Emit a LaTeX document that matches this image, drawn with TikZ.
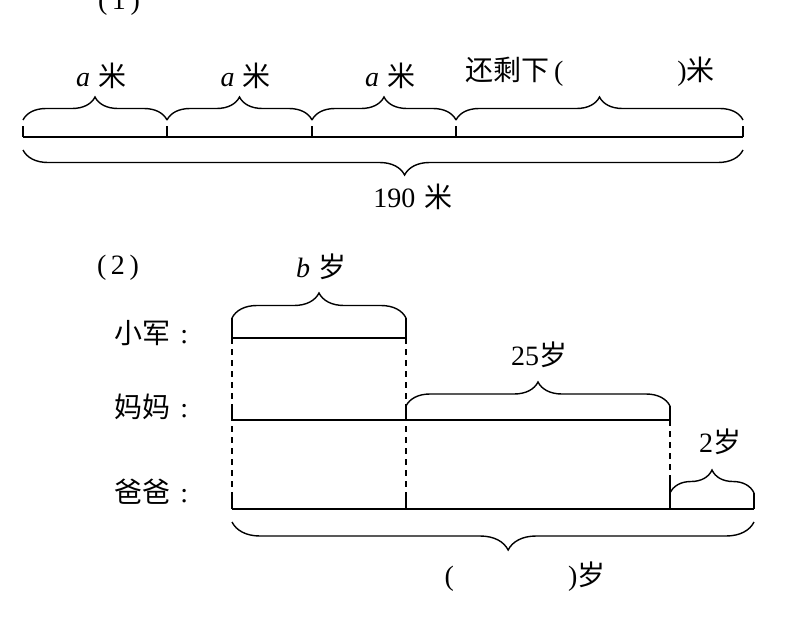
\documentclass[tikz,border=0pt]{standalone}
\usepackage{fontspec}
\setmainfont{Liberation Serif}
\newfontfamily\cjk{Noto Sans CJK SC}
\usetikzlibrary{decorations.pathreplacing}

\begin{document}
\begin{tikzpicture}[x=0.5pt, y=-0.5pt, line width=0.7pt,
  font=\fontsize{14}{16}\selectfont,
  brc/.style={decorate, decoration={brace, amplitude=#1}},
  dashv/.style={dash pattern=on 3pt off 2.5pt}]
  \useasboundingbox (0,0) rectangle (786,616);

  % (1) one bar, three parts of a metres and the rest
  \node (n1) at (119,3) {(\,1\,)};
  \coordinate (L1) at (23,137);
  \coordinate (R1) at (743,137);
  \draw (L1) -- (R1);
  \foreach \x in {23,167,312,456,743}
    \draw (\x,126) -- (\x,137);
  \foreach \xa/\xb [count=\k] in {23/167, 167/312, 312/456} {
    \draw[brc=11.5pt] (\xa,120) -- (\xb,120);
    \node (a\k) at ({(\xa+\xb)/2+6},76) {\textit{a}\hspace{4pt}{\cjk 米}};
  }
  \draw[brc=11.5pt] (456,120) -- (743,120);
  \node (rest) at (590,72) {{\cjk 还剩下}\,(\hspace{57pt}){\cjk 米}};
  \draw[brc=12.5pt, decoration={aspect=0.47}] (743,150) -- (23,150);
  \node (total) at (413,197) {190\,\,{\cjk 米}};

  % (2) ages of the three
  \node (n2) at (118,268) {(\,2\,)};
  \node[anchor=west] (xj) at (107,333) {{\cjk 小军}\hspace{5pt}:};
  \node[anchor=west] (mm) at (107,407) {{\cjk 妈妈}\hspace{5pt}:};
  \node[anchor=west] (bb) at (107,492) {{\cjk 爸爸}\hspace{5pt}:};

  \coordinate (x1) at (232,338);
  \coordinate (x2) at (406,338);
  \coordinate (m1) at (232,420);
  \coordinate (m2) at (670,420);
  \coordinate (b1) at (232,509);
  \coordinate (b2) at (754,509);
  \draw (x1) -- (x2);
  \draw (m1) -- (m2);
  \draw (b1) -- (b2);

  % dashed guides
  \draw[dashv] (232,338) -- (232,509);
  \draw[dashv] (406,338) -- (406,509);
  \draw[dashv] (670,420) -- (670,481);

  % ticks at the bars
  \draw (232,318) -- (x1);
  \draw (406,318) -- (x2);
  \draw (232,408) -- (m1);
  \draw (406,406) -- (406,420);
  \draw (670,406) -- (m2);
  \draw (232,497) -- (b1);
  \draw (406,496) -- (406,509);
  \draw (670,481) -- (670,509);
  \draw (754,493) -- (b2);

  % braces and their labels
  \draw[brc=12.5pt] (232,318) -- (406,318);
  \node (bage) at (321,267) {\textit{b}\hspace{4pt}{\cjk 岁}};
  \draw[brc=12pt] (406,406) -- (670,406);
  \node (diff1) at (539,355) {25{\cjk 岁}};
  \draw[brc=11.5pt] (670,493) -- (754,493);
  \node (diff2) at (720,442) {2{\cjk 岁}};
  \draw[brc=14pt, decoration={aspect=0.471}] (754,522) -- (232,522);
  \node (dad) at (525,577) {(\hspace{57pt}){\cjk 岁}};
\end{tikzpicture}
\end{document}
